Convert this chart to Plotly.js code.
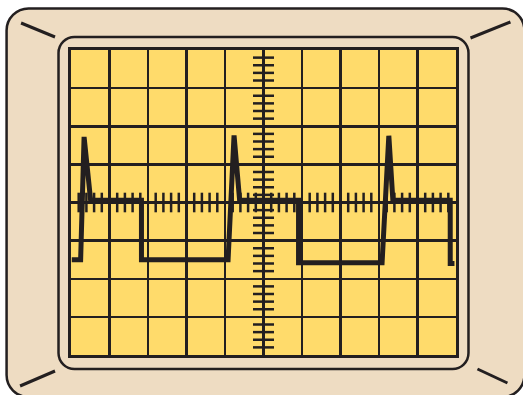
<!DOCTYPE html>
<html>
<head>
<meta charset="utf-8">
<script src="https://cdn.plot.ly/plotly-3.0.1.min.js"></script>
<style>
html,body{margin:0;padding:0;background:#fff;}
#chart{width:523px;height:395px;}
</style>
</head>
<body>
<div id="chart"></div>
<script>
// Signal trace (x in horizontal divisions, y in vertical divisions)
const sigX = [-4.98, -4.75, -4.66, -4.49, -3.17, -3.17, -0.92, -0.765, -0.62, 0.91, 0.91, 3.08, 3.255, 3.36, 4.85, 4.85, 4.96];
const sigY = [-1.5, -1.5, 1.72, 0.06, 0.06, -1.5, -1.5, 1.76, 0.06, 0.06, -1.58, -1.58, 1.75, 0.06, 0.06, -1.6, -1.6];

// Sub-division marks on the centre horizontal axis
const hTickX = [-4.8,-4.6,-4.4,-4.2,-3.8,-3.6,-3.4,-3.2,-2.8,-2.6,-2.4,-2.2,-1.8,-1.6,-1.4,-1.2,-0.8,-0.6,-0.4,-0.2,
                0.2,0.4,0.6,0.8,1.2,1.4,1.6,1.8,2.2,2.4,2.6,2.8,3.2,3.4,3.6,3.8,4.2,4.4,4.6,4.8];
const hTickY = [0,0,0,0,0,0,0,0,0,0,0,0,0,0,0,0,0,0,0,0,0,0,0,0,0,0,0,0,0,0,0,0,0,0,0,0,0,0,0,0];

// Sub-division marks on the centre vertical axis
const vTickY = [-3.8,-3.6,-3.4,-3.2,-2.8,-2.6,-2.4,-2.2,-1.8,-1.6,-1.4,-1.2,-0.8,-0.6,-0.4,-0.2,
                0.2,0.4,0.6,0.8,1.2,1.4,1.6,1.8,2.2,2.4,2.6,2.8,3.2,3.4,3.6,3.8];
const vTickX = [0,0,0,0,0,0,0,0,0,0,0,0,0,0,0,0,0,0,0,0,0,0,0,0,0,0,0,0,0,0,0,0];

const DARK = '#231F20';
const BEZEL = '#EEDCC2';
const SCREEN = '#FFDB6B';

// plot area in pixels: x 71..456.5, y 50..355
const PL = 71, PW = 385.5, PB = 355, PH = 305;
function X(px){ return ((px - PL) / PW).toFixed(5); }
function Y(py){ return ((PB - py) / PH).toFixed(5); }
function rr(x0, y0, x1, y1, r){
  const k = 0.5523 * r;
  return 'M' + X(x0 + r) + ',' + Y(y0) +
    ' L' + X(x1 - r) + ',' + Y(y0) +
    ' C' + X(x1 - r + k) + ',' + Y(y0) + ' ' + X(x1) + ',' + Y(y0 + r - k) + ' ' + X(x1) + ',' + Y(y0 + r) +
    ' L' + X(x1) + ',' + Y(y1 - r) +
    ' C' + X(x1) + ',' + Y(y1 - r + k) + ' ' + X(x1 - r + k) + ',' + Y(y1) + ' ' + X(x1 - r) + ',' + Y(y1) +
    ' L' + X(x0 + r) + ',' + Y(y1) +
    ' C' + X(x0 + r - k) + ',' + Y(y1) + ' ' + X(x0) + ',' + Y(y1 - r + k) + ' ' + X(x0) + ',' + Y(y1 - r) +
    ' L' + X(x0) + ',' + Y(y0 + r) +
    ' C' + X(x0) + ',' + Y(y0 + r - k) + ' ' + X(x0 + r - k) + ',' + Y(y0) + ' ' + X(x0 + r) + ',' + Y(y0) + ' Z';
}
function seg(xa, ya, xb, yb){
  return {type:'line', xref:'paper', yref:'paper', layer:'below',
    x0:+X(xa), y0:+Y(ya), x1:+X(xb), y1:+Y(yb), line:{color:DARK, width:3}};
}

const shapes = [
  {type:'path', xref:'paper', yref:'paper', layer:'below', path: rr(6.5, 8.5, 525, 397, 22),
    fillcolor: BEZEL, line:{color:DARK, width:2.5}},
  {type:'path', xref:'paper', yref:'paper', layer:'below', path: rr(58.5, 37, 469, 369, 16),
    fillcolor: BEZEL, line:{color:DARK, width:2.5}},
  {type:'rect', xref:'paper', yref:'paper', layer:'below', x0:0, x1:1, y0:0, y1:1,
    fillcolor: SCREEN, line:{width:0}},
  seg(21, 23, 55, 37),
  seg(471, 38, 511, 22),
  seg(20, 386, 55, 371),
  seg(478, 369, 508, 383)
];

const traces = [
  {x: hTickX, y: hTickY, type:'scatter', mode:'markers', hoverinfo:'skip',
    marker:{symbol:'line-ns', size:14, color:DARK, line:{color:DARK, width:2.5}}},
  {x: vTickX, y: vTickY, type:'scatter', mode:'markers', hoverinfo:'skip',
    marker:{symbol:'line-ew', size:15, color:DARK, line:{color:DARK, width:2.5}}},
  {x: sigX, y: sigY, type:'scatter', mode:'lines', hoverinfo:'skip',
    line:{color:DARK, width:5}}
];

const axisCommon = {
  dtick:1, tick0:0, showgrid:true, gridcolor:DARK, gridwidth:2.5,
  zeroline:true, zerolinecolor:DARK, zerolinewidth:2.5,
  showticklabels:false, ticks:'', showline:true, mirror:true,
  linecolor:DARK, linewidth:3, fixedrange:true
};

const layout = {
  width:523, height:395,
  margin:{l:PL, r:523 - (PL + PW), t:50, b:395 - PB, pad:0},
  paper_bgcolor:'#FFFFFF', plot_bgcolor:SCREEN,
  showlegend:false,
  xaxis: Object.assign({range:[-5,5]}, axisCommon),
  yaxis: Object.assign({range:[-4,4]}, axisCommon),
  shapes: shapes
};

Plotly.newPlot('chart', traces, layout, {staticPlot:true, displayModeBar:false});
</script>
</body>
</html>
